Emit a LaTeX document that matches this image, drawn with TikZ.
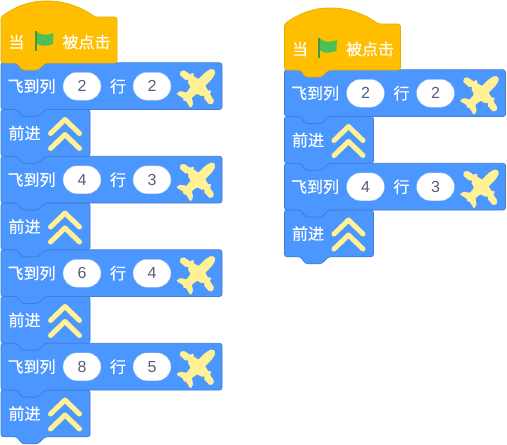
\documentclass[tikz,border=0pt]{standalone}
\usepackage{fontspec}
\setmainfont[AutoFakeBold=0.3]{Noto Sans CJK SC}
\newfontfamily\latinnum{Liberation Sans}
\definecolor{blockblue}{HTML}{4C97FF}
\definecolor{blockedge}{HTML}{3F7DD6}
\definecolor{hatfill}{HTML}{FFBF00}
\definecolor{hatedge}{HTML}{E6AC00}
\definecolor{iconyellow}{HTML}{FFF194}
\definecolor{numgray}{HTML}{575E75}
\definecolor{flaggreen}{HTML}{4CBF56}
\definecolor{poledark}{HTML}{45993D}
\tikzset{
  blockbody/.style={fill=blockblue,draw=blockedge,line width=0.7pt,rounded corners=2.5pt},
  hatbody/.style={fill=hatfill,draw=hatedge,line width=0.7pt,rounded corners=2.5pt},
  lbl/.style={text=white,font=\fontsize{16}{16}\selectfont\bfseries,inner sep=0pt,anchor=center},
  pill/.style={fill=white,draw=blockedge!60,line width=0.3pt,rounded corners=14pt,minimum width=38pt,minimum height=28pt,inner sep=0pt,text=numgray,font=\latinnum\fontsize{16}{16}\selectfont},
  chev/.style={draw=iconyellow,line width=5pt,line cap=round,line join=round},
  planeicon/.style={fill=iconyellow,draw=iconyellow,line width=0.4pt,line join=round,rounded corners=0.8pt}
}
\newcommand{\blockshape}[2]{% width, style
  \draw[#2] (0,0) -- (16,0) -- (21,7) -- (37,7) -- (44,0) -- (#1,0) -- (#1,46.75) -- (44,46.75) -- (37,53.75) -- (21,53.75) -- (16,46.75) -- (0,46.75) -- cycle;}
\newcommand{\flyblock}[2]{%
  \blockshape{221}{blockbody}
  \node[lbl] (t1) at (30.5,23.5) {飞到列};
  \node[pill] (c1) at (81,23.5) {#1};
  \node[lbl] (t2) at (117,23.5) {行};
  \node[pill] (c2) at (151,23.5) {#2};
  \begin{scope}[shift={(196.5,24)},x={(0.7pt,-0.7pt)},y={(0.7pt,0.7pt)}]
    \draw[planeicon] (0,24) -- (3,22) -- (4.5,16) -- (4.5,6) -- (11,4.5) -- (11.5,6.5) -- (13.5,6) -- (13.5,3.5) -- (21,2) -- (23,-1) -- (21,-4)
      -- (13,-3.5) -- (13,-2) -- (10.5,-1.5) -- (10,-3.5) -- (4.5,-5) -- (3.5,-12) -- (9,-15.5) -- (10,-20) -- (1.5,-18) -- (0,-20)
      -- (-1.5,-18) -- (-10,-20) -- (-9,-15.5) -- (-3.5,-12) -- (-4.5,-5) -- (-10,-3.5) -- (-10.5,-1.5) -- (-13,-2) -- (-13,-3.5)
      -- (-21,-4) -- (-23,-1) -- (-21,2) -- (-13.5,3.5) -- (-13.5,6) -- (-11.5,6.5) -- (-11,4.5) -- (-4.5,6) -- (-4.5,16) -- (-3,22) -- cycle;
  \end{scope}
}
\newcommand{\goblock}{%
  \blockshape{89}{blockbody}
  \node[lbl] (t3) at (23.5,23.5) {前进};
  \draw[chev] (49.5,24) -- (64,10) -- (78.5,24);
  \draw[chev] (49.5,39) -- (64,25) -- (78.5,39);
}
\newcommand{\hatblock}{%
  \draw[hatbody] (0,16) .. controls (15,5) and (30,0) .. (46,0) .. controls (63,0) and (80,6) .. (94,16)
    -- (116,16) -- (116,62) -- (44,62) -- (37,69) -- (21,69) -- (16,62) -- (0,62) -- cycle;
  \node[lbl] (t4) at (15.5,41) {当};
  \fill[flaggreen] (35,30.5) .. controls (40,35) and (47,34) .. (52.5,32) .. controls (52,36) and (52,40) .. (52,43)
    .. controls (46,45) and (40,46) .. (35,42) -- cycle;
  \fill[poledark] (33.5,29.5) rectangle (35.5,49.5);
  \node[lbl] (t5) at (85.5,41) {被点击};
}
\begin{document}
\begin{tikzpicture}[x=1pt,y=-1pt]
\useasboundingbox (0,0) rectangle (507,445);
\fill[white] (0,0) rectangle (507,445);
% left stack, bottom up so each notch lies over the block beneath
\begin{scope}[shift={(1,390)},name prefix=l8-]\goblock\end{scope}
\begin{scope}[shift={(1,343.25)},name prefix=l7-]\flyblock{8}{5}\end{scope}
\begin{scope}[shift={(1,296.5)},name prefix=l6-]\goblock\end{scope}
\begin{scope}[shift={(1,249.75)},name prefix=l5-]\flyblock{6}{4}\end{scope}
\begin{scope}[shift={(1,203)},name prefix=l4-]\goblock\end{scope}
\begin{scope}[shift={(1,156.25)},name prefix=l3-]\flyblock{4}{3}\end{scope}
\begin{scope}[shift={(1,109.5)},name prefix=l2-]\goblock\end{scope}
\begin{scope}[shift={(1,62.75)},name prefix=l1-]\flyblock{2}{2}\end{scope}
\begin{scope}[shift={(1,1)},name prefix=l0-]\hatblock\end{scope}
% right stack
\begin{scope}[shift={(284.5,210)},name prefix=r4-]\goblock\end{scope}
\begin{scope}[shift={(284.5,163.25)},name prefix=r3-]\flyblock{4}{3}\end{scope}
\begin{scope}[shift={(284.5,116.5)},name prefix=r2-]\goblock\end{scope}
\begin{scope}[shift={(284.5,69.75)},name prefix=r1-]\flyblock{2}{2}\end{scope}
\begin{scope}[shift={(284.5,8)},name prefix=r0-]\hatblock\end{scope}
\end{tikzpicture}
\end{document}
